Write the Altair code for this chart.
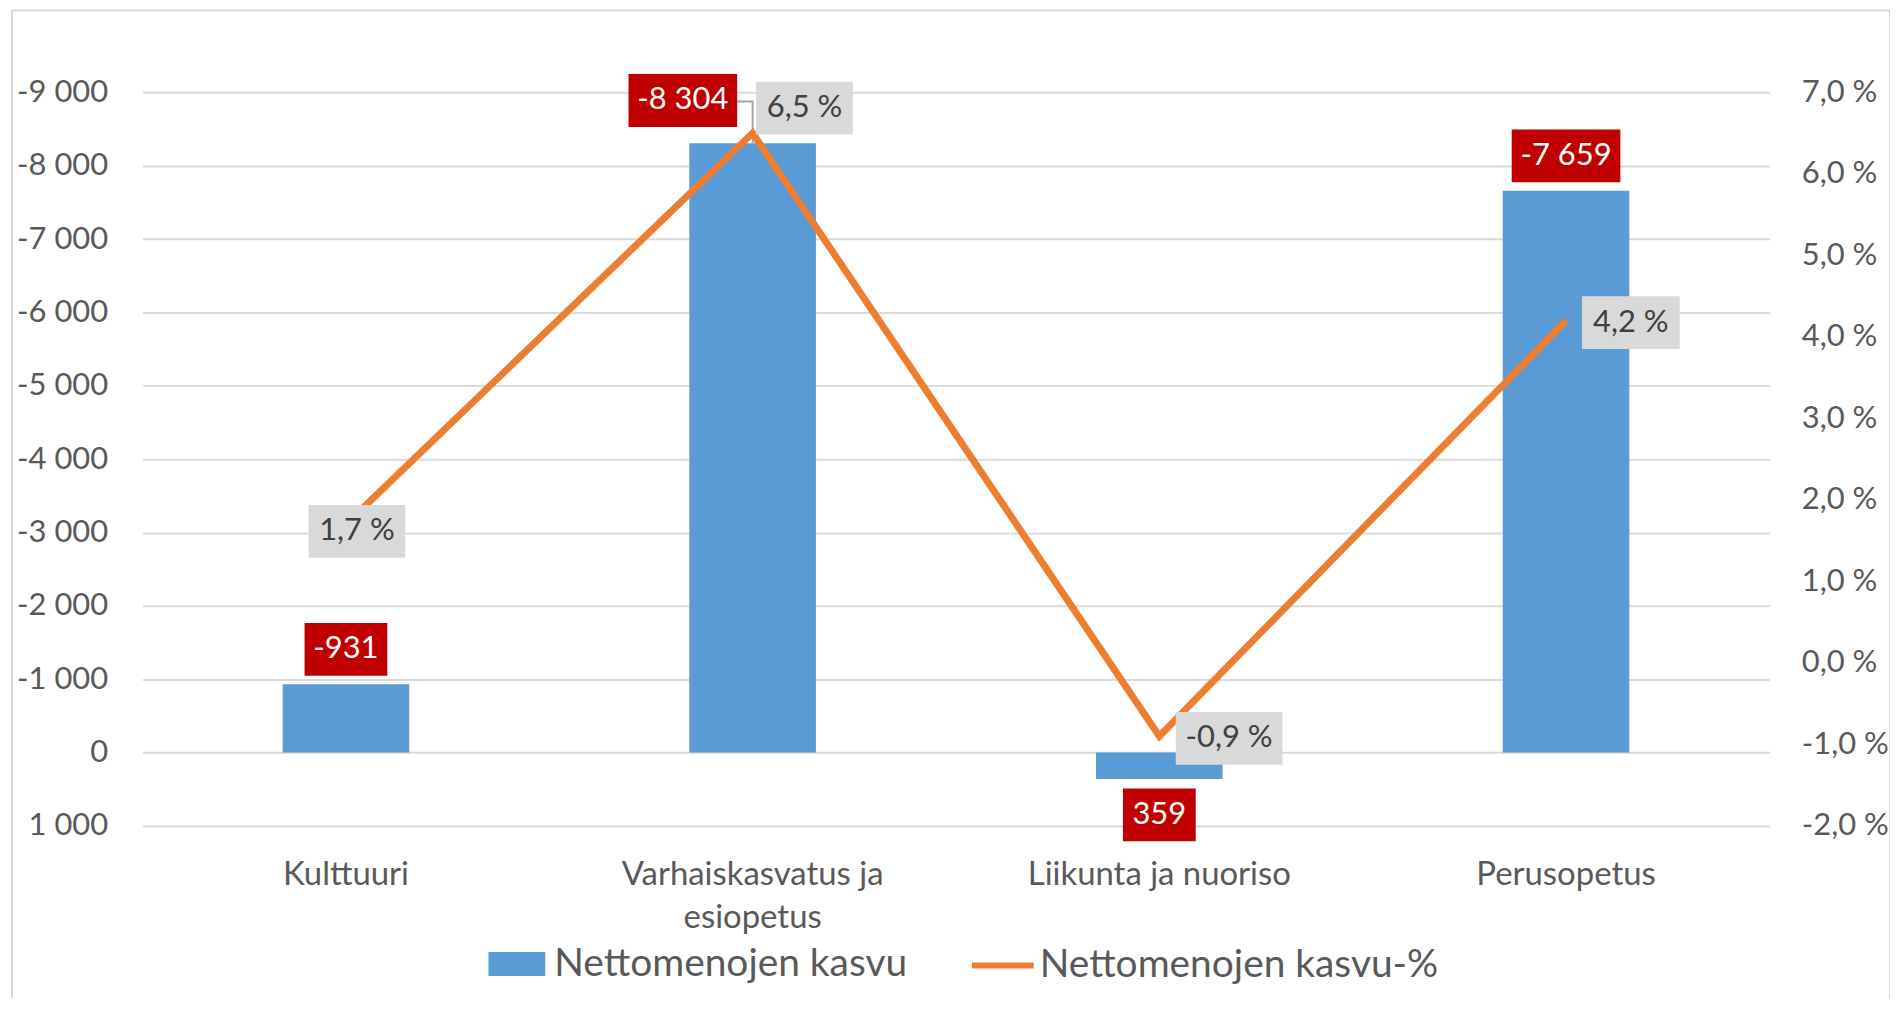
import altair as alt
import pandas as pd

# ---------------- data ----------------
categories = ["Kulttuuri", "Varhaiskasvatus ja esiopetus", "Liikunta ja nuoriso", "Perusopetus"]
net_growth = [-931, -8304, 359, -7659]          # Nettomenojen kasvu (left axis, reversed)
net_growth_pct = [1.7, 6.5, -0.9, 4.2]          # Nettomenojen kasvu-% (right axis)
left_ticks = [-9000, -8000, -7000, -6000, -5000, -4000, -3000, -2000, -1000, 0, 1000]
right_ticks = [-2, -1, 0, 1, 2, 3, 4, 5, 6, 7]
series_bar = "Nettomenojen kasvu"
series_line = "Nettomenojen kasvu-%"

df = pd.DataFrame({"cat": categories, "v": net_growth, "pct": net_growth_pct})

# ---------------- styles / layout ----------------
FONT = "Lato"
TXT = "#595959"
BLUE = "#5B9BD5"
ORANGE = "#ED7D31"
RED = "#C00000"
LGRAY = "#D9D9D9"
BOX_H = 53

# label box centre offset from its anchor (px) and box width
bar_label_layout = {
    "Kulttuuri": (0, -35, 83),
    "Varhaiskasvatus ja esiopetus": (-70, -43, 109),
    "Liikunta ja nuoriso": (0, 36, 73),
    "Perusopetus": (0, -35, 109),
}
pct_label_layout = {
    "Kulttuuri": (11, 7, 97),
    "Varhaiskasvatus ja esiopetus": (52, -25, 97),
    "Liikunta ja nuoriso": (70, 2, 107),
    "Perusopetus": (65, 2, 98),
}

num_expr = "replace(replace(format(datum.v, ','), ',', ' '), '\u2212', '-')"
pct_expr = "replace(replace(format(datum.pct, '.1f'), '.', ','), '\u2212', '-') + ' %'"

base = alt.Chart(df)

x = alt.X(
    "cat:N",
    scale=alt.Scale(domain=categories, paddingInner=0, paddingOuter=0),
    axis=alt.Axis(
        title=None, orient="bottom", domain=False, ticks=False, grid=False,
        labelPadding=33, labelAngle=0, labelLimit=0, labelOverlap=False,
        labelFontSize=33, labelLineHeight=43,
        labelExpr="datum.label == 'Varhaiskasvatus ja esiopetus' ? ['Varhaiskasvatus ja', 'esiopetus'] : datum.label",
    ),
)
yl = alt.Y(
    "v:Q",
    scale=alt.Scale(domain=[-9000, 1000], reverse=True, nice=False),
    axis=alt.Axis(
        title=None, orient="left", values=left_ticks, domain=False, ticks=False,
        labelPadding=35, grid=True, gridColor=LGRAY, gridWidth=2, labelFontSize=31,
        labelExpr="replace(replace(format(datum.value, ','), ',', ' '), '\u2212', '-')",
    ),
)
yr = alt.Y(
    "pct:Q",
    scale=alt.Scale(domain=[-2, 7], nice=False),
    axis=alt.Axis(
        title=None, orient="right", values=right_ticks, domain=False, ticks=False,
        labelPadding=32, grid=False, labelFontSize=31,
        labelExpr="replace(replace(format(datum.value, '.1f'), '.', ','), '\u2212', '-') + ' %'",
    ),
)

bars = base.transform_calculate(series=f"'{series_bar}'").mark_bar(size=127).encode(
    x=x,
    y=yl,
    fill=alt.Fill(
        "series:N",
        scale=alt.Scale(domain=[series_bar], range=[BLUE]),
        legend=alt.Legend(
            title=None, orient="none", legendX=346, legendY=845, padding=0,
            symbolType="M-1,-0.42H1V0.42H-1Z", symbolSize=3249, symbolOpacity=1,
            labelFont=FONT, labelFontSize=39, labelColor=TXT, labelOffset=8, labelLimit=0,
        ),
    ),
)

leader = base.transform_filter(alt.datum.cat == "Varhaiskasvatus ja esiopetus").mark_point(
    shape="M-0.381,-1H0V0", size=84 * 84, filled=False, color="#A6A6A6", opacity=1, strokeWidth=2
).encode(x=x, y=yl)

left_layers = [bars, leader]
for cat, (dx, dy, w) in bar_label_layout.items():
    r = BOX_H / w
    sel = base.transform_filter(alt.datum.cat == cat)
    left_layers.append(
        sel.mark_point(
            shape=f"M-1,{-r:.4f}H1V{r:.4f}H-1Z", size=w * w, filled=True, color=RED,
            opacity=1, strokeWidth=0, xOffset=dx, yOffset=dy,
        ).encode(x=x, y=yl)
    )
    left_layers.append(
        sel.transform_calculate(lbl=num_expr).mark_text(
            font=FONT, fontSize=31, color="white", dx=dx, dy=dy, align="center", baseline="middle"
        ).encode(x=x, y=yl, text="lbl:N")
    )

line = base.transform_calculate(series=f"'{series_line}'").mark_line(strokeWidth=7).encode(
    x=x,
    y=yr,
    stroke=alt.Stroke(
        "series:N",
        scale=alt.Scale(domain=[series_line], range=[ORANGE]),
        legend=alt.Legend(
            title=None, orient="none", legendX=829, legendY=842, padding=0,
            symbolType="stroke", symbolSize=3844, symbolStrokeWidth=6,
            labelFont=FONT, labelFontSize=39, labelColor=TXT, labelOffset=3, labelLimit=0,
        ),
    ),
)

right_layers = [line]
for cat, (dx, dy, w) in pct_label_layout.items():
    r = BOX_H / w
    sel = base.transform_filter(alt.datum.cat == cat)
    right_layers.append(
        sel.mark_point(
            shape=f"M-1,{-r:.4f}H1V{r:.4f}H-1Z", size=w * w, filled=True, color=LGRAY,
            opacity=1, strokeWidth=0, xOffset=dx, yOffset=dy,
        ).encode(x=x, y=yr)
    )
    right_layers.append(
        sel.transform_calculate(lbl=pct_expr).mark_text(
            font=FONT, fontSize=31, color="#404040", dx=dx, dy=dy, align="center", baseline="middle"
        ).encode(x=x, y=yr, text="lbl:N")
    )

border = alt.Chart(alt.Data(values=[{"b": 1}])).mark_rect(
    fillOpacity=0, stroke=LGRAY, strokeWidth=2
).encode(x=alt.value(-131), x2=alt.value(1753), y=alt.value(-82), y2=alt.value(915))

chart = (
    alt.layer(border, alt.layer(*left_layers), alt.layer(*right_layers))
    .resolve_scale(y="independent")
    .properties(
        width=1632,
        height=736,
        autosize=alt.AutoSizeParams(type="none"),
        padding={"left": 135, "top": 83, "right": 121, "bottom": 171},
    )
    .configure_axis(labelFont=FONT, labelColor=TXT)
    .configure_view(strokeWidth=0)
)

chart.save("out.html", embed_options={"renderer": "svg", "actions": False})
